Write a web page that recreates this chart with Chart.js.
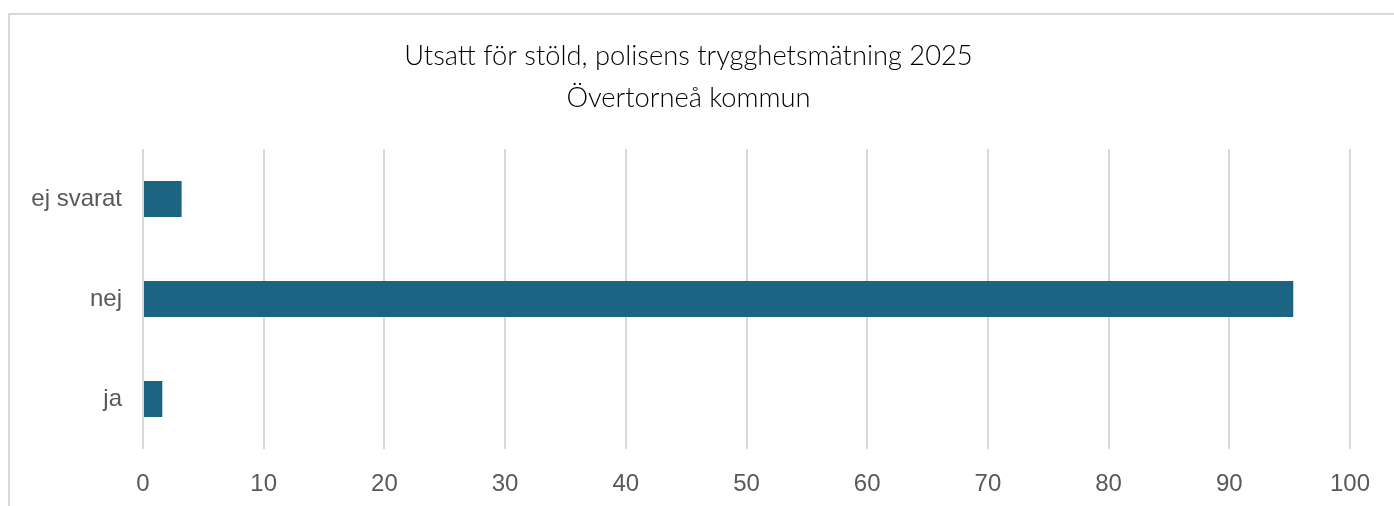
<!DOCTYPE html>
<html>
<head>
<meta charset="utf-8">
<script src="https://cdn.jsdelivr.net/npm/chart.js@4"></script>
<style>
  html, body { margin: 0; padding: 0; background: #fff; }
  #wrap { position: relative; width: 1394px; height: 506px; overflow: hidden; }
  #frame { position: absolute; left: 8px; top: 13px; width: 1400px; height: 520px;
           border-top: 2px solid #d9d9d9; border-left: 2px solid #d9d9d9; }
  canvas { position: absolute; left: 0; top: 0; }
</style>
</head>
<body>
<div id="wrap">
  <div id="frame"></div>
  <canvas id="stoldChart" width="1394" height="506"></canvas>
</div>
<script>
// svarskategorier, uppifrån och ned
const categories = ['ej svarat', 'nej', 'ja'];
// andel (%) per svar
const values = [3.2, 95.3, 1.6];
const titleLines = ['Utsatt för stöld, polisens trygghetsmätning 2025', 'Övertorneå kommun'];

const tickFont = { family: '"Liberation Sans", Arial, sans-serif', size: 24 };

const ctx = document.getElementById('stoldChart').getContext('2d');
new Chart(ctx, {
    type: 'bar',
    data: {
        labels: categories,
        datasets: [{
            label: 'Andel',
            data: values,
            backgroundColor: '#1b6482',
            borderWidth: 0,
            barPercentage: 0.36,
            categoryPercentage: 1
        }]
    },
    options: {
        indexAxis: 'y',
        responsive: false,
        animation: false,
        layout: {
            padding: { left: 27, right: 44, top: 0, bottom: 11 }
        },
        plugins: {
            legend: { display: false },
            tooltip: { enabled: false },
            title: {
                display: true,
                text: titleLines,
                color: '#000',
                font: { family: 'Lato, "Open Sans", sans-serif', size: 27.3, weight: 300, lineHeight: 42 / 27.3 },
                padding: { top: 35, bottom: 30 }
            }
        },
        scales: {
            x: {
                min: 0,
                max: 100,
                ticks: { stepSize: 10, color: '#595959', font: tickFont, padding: 21 },
                grid: { color: '#d9d9d9', lineWidth: 2, drawTicks: false },
                border: { display: false },
                afterFit: scale => { scale.height = 46; }
            },
            y: {
                ticks: { color: '#595959', font: tickFont, padding: 21 },
                grid: { display: false, drawTicks: false },
                border: { display: false },
                afterFit: scale => { scale.width = 116; }
            }
        }
    }
});
</script>
</body>
</html>
